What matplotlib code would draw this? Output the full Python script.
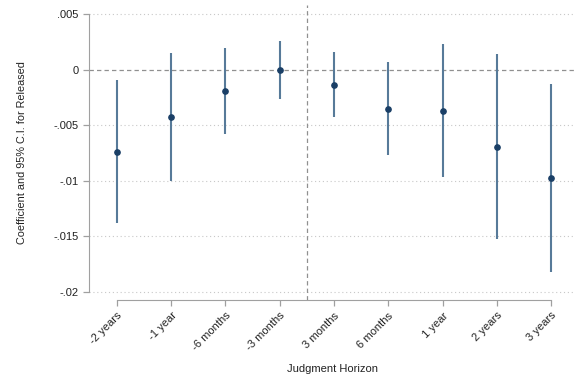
import matplotlib
matplotlib.use("Agg")
import matplotlib.pyplot as plt
import numpy as np

labels = ["-2 years", "-1 year", "-6 months", "-3 months", "3 months",
          "6 months", "1 year", "2 years", "3 years"]
coef = [-0.0074, -0.00426, -0.00195, -0.00006, -0.00135, -0.0035, -0.00375, -0.00692, -0.00977]
ci_low = [-0.0138, -0.00998, -0.00576, -0.00267, -0.00423, -0.00764, -0.00968, -0.01523, -0.0182]
ci_high = [-0.0009, 0.00147, 0.0019, 0.00254, 0.00159, 0.00066, 0.00231, 0.00144, -0.00129]
yticks = [0.005, 0, -0.005, -0.01, -0.015, -0.02]
ytick_labels = [".005", "0", "-.005", "-.01", "-.015", "-.02"]

plt.rcParams['font.family'] = ['Liberation Sans', 'DejaVu Sans']
fig = plt.figure(figsize=(5.75, 3.76), dpi=100)
ax = fig.add_axes([0.1548, 0.2021, 0.8452, 0.7846])

x = np.arange(1, len(labels) + 1)
ax.set_xlim(0.485, 9.44)
ax.set_ylim(-0.02072, 0.00581)

for yt in yticks:
    if yt != 0:
        ax.axhline(yt, color='#c8c8c8', lw=0.8, ls=(0, (1, 2.5)), zorder=0)
ax.axhline(0, color='#909090', lw=0.9, ls=(0, (3.5, 2.5)), zorder=1)
ax.axvline(4.5, color='#909090', lw=0.9, ls=(0, (3.5, 2.5)), zorder=1)

ax.vlines(x, ci_low, ci_high, color='#577a99', lw=1.5, zorder=2)
ax.plot(x, coef, 'o', color='#1a3f66', ms=3.8, zorder=3)

ax.set_yticks(yticks)
ax.set_yticklabels(ytick_labels, fontsize=8)
ax.set_xticks(x)
ax.set_xticklabels(labels, rotation=45, ha='right', rotation_mode='anchor', fontsize=8)

for s in ['top', 'right']:
    ax.spines[s].set_visible(False)
ax.spines['left'].set_bounds(-0.02, 0.005)
ax.spines['bottom'].set_bounds(1, 9)
ax.spines['left'].set_color('#a0a0a0')
ax.spines['bottom'].set_color('#a0a0a0')
ax.tick_params(axis='both', colors='#a0a0a0', labelcolor='#222222', length=4, width=0.9)

ax.set_ylabel("Coefficient and 95% C.I. for Released", fontsize=7.8, color='#222222', labelpad=19)
ax.set_xlabel("Judgment Horizon", fontsize=8, color='#222222', labelpad=8)

fig.savefig("out.png", dpi=100)
